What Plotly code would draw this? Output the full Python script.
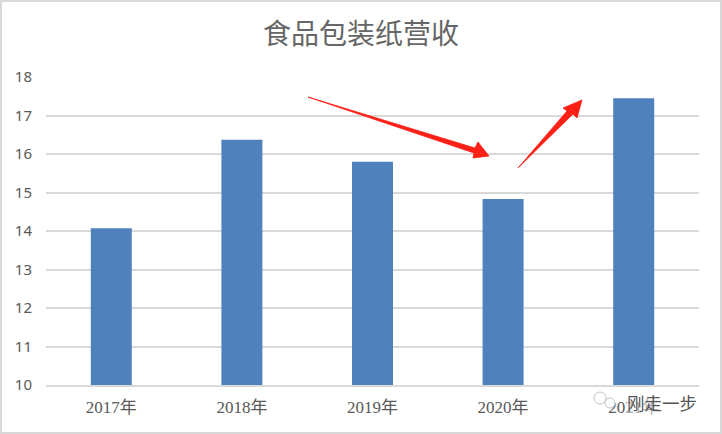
import plotly.graph_objects as go

categories = ["2017年", "2018年", "2019年", "2020年", "2021年"]
values = [14.07, 16.37, 15.80, 14.83, 17.45]
title = "食品包装纸营收"
watermark = "刚走一步"

W, H = 722, 434
L, R, T, B = 46, 699, 77, 385
FONT = "Noto Sans CJK SC"


def px(x):
    return (x - L) / (R - L)


def py(y):
    return (B - y) / (B - T)


def path(points):
    return "M " + " L ".join(f"{px(x):.5f},{py(y):.5f}" for x, y in points) + " Z"


arrow_down = [(308, 97), (475, 148), (478, 142), (489, 156), (473, 158), (474, 153)]
arrow_up = [(518, 168), (567, 111), (563, 108), (582, 100), (577, 118), (573, 114)]

shapes = [
    dict(type="rect", xref="paper", yref="paper", x0=px(1), x1=px(W - 1), y0=py(H - 1), y1=py(1),
         line=dict(color="#d9d9d9", width=2), fillcolor="rgba(0,0,0,0)", layer="above"),
]
for pts in (arrow_down, arrow_up):
    shapes.append(dict(type="path", xref="paper", yref="paper", path=path(pts),
                       fillcolor="#fb2016", line=dict(color="#fb2016", width=0.8), layer="above"))
# small chat-bubble mark of the watermark
for cx, cy, r in ((600, 398, 6), (610, 403, 5)):
    shapes.append(dict(type="circle", xref="paper", yref="paper",
                       x0=px(cx - r), x1=px(cx + r), y0=py(cy + r), y1=py(cy - r),
                       fillcolor="rgba(255,255,255,0.9)", line=dict(color="#c4c4c4", width=1), layer="above"))

fig = go.Figure(go.Bar(x=categories, y=values, width=0.314, marker=dict(color="#4f81bd", line=dict(width=0)),
                       hoverinfo="skip"))

fig.update_layout(
    width=W, height=H, autosize=False,
    margin=dict(l=L, r=W - R, t=T, b=H - B),
    paper_bgcolor="white", plot_bgcolor="white",
    showlegend=False,
    font=dict(family=FONT, color="#595959"),
    shapes=shapes,
    annotations=[
        dict(text=title, xref="paper", yref="paper", x=px(361), y=py(32), xanchor="center", yanchor="middle",
             showarrow=False, font=dict(size=28, color="#666666", family=FONT)),
        dict(text=watermark, xref="paper", yref="paper", x=px(662), y=py(402), xanchor="center", yanchor="middle",
             showarrow=False, font=dict(size=17.5, color="#555555", family=FONT), bgcolor="rgba(255,255,255,0.5)"),
    ],
    xaxis=dict(type="category", showgrid=False, showline=True, linecolor="#d9d9d9", linewidth=2, ticks="",
               tickfont=dict(size=17, color="#595959", family="Liberation Serif, " + FONT), ticklabelstandoff=6),
    yaxis=dict(range=[10, 18], dtick=1, showgrid=True, gridcolor="#d9d9d9", gridwidth=2, zeroline=False,
               showline=False, ticks="", tickfont=dict(size=15, color="#595959", family="Noto Sans"),
               ticklabelstandoff=13),
)
fig.write_html("out.html", config=dict(displayModeBar=False), post_script="document.body.style.margin='0';")
